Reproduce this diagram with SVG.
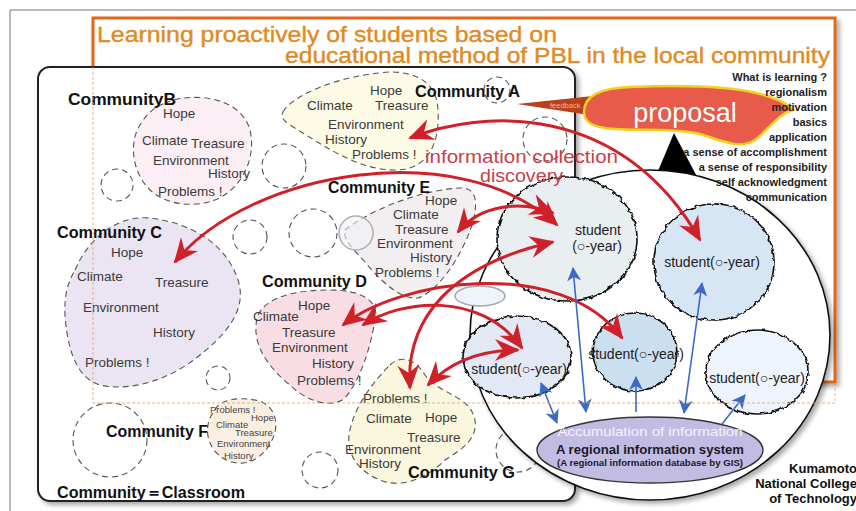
<svg xmlns="http://www.w3.org/2000/svg" width="856" height="511" viewBox="0 0 856 511">
<defs>
<style>
text{font-family:"Liberation Sans",Arial,sans-serif}
.w{font-size:13.5px;fill:#3a3a3a}
.wf{font-size:9.5px;fill:#444}
.lab{font-size:16px;font-weight:bold;fill:#111}
.cb{stroke:#555;stroke-width:1.1;stroke-dasharray:6 4}
.ec{fill:none;stroke:#555;stroke-width:1.1;stroke-dasharray:6 4}
.st{stroke:#111;stroke-width:1.6}
.stt{font-size:14px;fill:#222;text-anchor:middle}
.lst{font-size:11px;font-weight:bold;fill:#222;text-anchor:end}
.red{fill:none;stroke:#d0202a;stroke-width:3;marker-start:url(#rh);marker-end:url(#rh)}
.blue{fill:none;stroke:#3d68c4;stroke-width:1.6}
.ghost{fill:none;stroke:#e2a677;stroke-width:0.9;stroke-dasharray:3 2}
.ttl{font-size:22px;fill:#e08a22;stroke:#e08a22;stroke-width:0.35}
</style>
<marker id="rh" viewBox="-25 -12 28 24" refX="0" refY="0" markerWidth="28" markerHeight="24" markerUnits="userSpaceOnUse" orient="auto-start-reverse"><path d="M2,0 L-23,-11 L-15,0 L-23,11 Z" fill="#d0202a"/></marker>
<marker id="bh" viewBox="-15 -8 17 16" refX="0" refY="0" markerWidth="17" markerHeight="16" markerUnits="userSpaceOnUse" orient="auto-start-reverse"><path d="M1,0 L-13,-7 L-9,0 L-13,7 Z" fill="#3d68c4"/></marker>
<filter id="rough" x="-10%" y="-10%" width="120%" height="120%"><feTurbulence type="fractalNoise" baseFrequency="0.18" numOctaves="2" seed="7" result="n"/><feDisplacementMap in="SourceGraphic" in2="n" scale="4.5" xChannelSelector="R" yChannelSelector="G"/></filter>
<filter id="sh" x="-5%" y="-5%" width="112%" height="112%"><feDropShadow dx="3" dy="3" stdDeviation="2.5" flood-color="#000" flood-opacity="0.35"/></filter>
</defs>
<rect width="856" height="511" fill="#fff"/>
<path d="M10,511 L10,10 L856,10" fill="none" stroke="#777" stroke-width="1"/>

<g id="title-box">
<rect x="93" y="18" width="742" height="364" fill="#fff" stroke="#e0671c" stroke-width="3" filter="url(#sh)"/>
<text class="ttl" x="97" y="42" textLength="460" lengthAdjust="spacingAndGlyphs">Learning proactively of students based on</text>
<text class="ttl" x="830" y="63" text-anchor="end" textLength="545" lengthAdjust="spacingAndGlyphs">educational method of PBL in the local community</text>
</g>

<g id="classroom">
<rect x="38" y="67" width="537" height="434" rx="12" fill="#fff" stroke="#222" stroke-width="2" filter="url(#sh)"/>
<text class="lab" x="57" y="498" textLength="188" lengthAdjust="spacingAndGlyphs">Community＝Classroom</text>
</g>

<g id="empty-circles">
<circle class="ec" cx="497" cy="90" r="13"/>
<circle class="ec" cx="545" cy="139" r="22"/>
<circle class="ec" cx="117" cy="185" r="16"/>
<circle class="ec" cx="284" cy="166" r="22"/>
<circle class="ec" cx="250" cy="237" r="17"/>
<circle class="ec" cx="313" cy="233" r="24"/>
<circle class="ec" cx="218" cy="378" r="12"/>
<circle class="ec" cx="110" cy="440" r="37"/>
<circle class="ec" cx="320" cy="470" r="18"/>
<circle class="ec" cx="518" cy="450" r="22"/>
</g>

<g id="community-a">
<path class="cb" fill="#fdfbe6" d="M283,112 C292,95 340,75 390,72 C420,72 437,85 438,110 C440,140 430,170 395,170 C360,170 330,150 290,125 C282,120 281,116 283,112 Z"/>
<text class="w" x="370" y="95">Hope</text>
<text class="w" x="307" y="110">Climate</text>
<text class="w" x="375" y="110">Treasure</text>
<text class="w" x="328" y="129">Environment</text>
<text class="w" x="325" y="144">History</text>
<text class="w" x="352" y="159">Problems !</text>
<text class="lab" x="415" y="97" textLength="105" lengthAdjust="spacingAndGlyphs">Community A</text>
</g>

<g id="community-b">
<path class="cb" fill="#fbeef4" d="M165,103 C190,92 240,95 250,130 C257,160 240,190 215,200 C195,208 165,205 150,190 C130,170 130,140 140,125 C148,112 155,107 165,103 Z"/>
<text class="w" x="163" y="118">Hope</text>
<text class="w" x="142" y="145">Climate</text>
<text class="w" x="191" y="148">Treasure</text>
<text class="w" x="153" y="165">Environment</text>
<text class="w" x="208" y="178">History</text>
<text class="w" x="158" y="196">Problems !</text>
<text class="lab" x="68" y="105" textLength="108" lengthAdjust="spacingAndGlyphs">CommunityB</text>
</g>

<g id="community-c">
<path class="cb" fill="#ebe5f3" d="M75,270 C90,235 120,215 150,218 C185,222 225,240 238,280 C248,310 225,335 200,355 C170,380 130,392 100,385 C75,378 67,345 65,315 C64,295 68,282 75,270 Z"/>
<text class="w" x="111" y="257">Hope</text>
<text class="w" x="77" y="281">Climate</text>
<text class="w" x="155" y="287">Treasure</text>
<text class="w" x="83" y="312">Environment</text>
<text class="w" x="153" y="337">History</text>
<text class="w" x="85" y="367">Problems !</text>
<text class="lab" x="57" y="238" textLength="105" lengthAdjust="spacingAndGlyphs">Community C</text>
</g>

<g id="community-d">
<path class="cb" fill="#f9dde5" d="M258,315 C268,295 300,290 330,290 C360,290 380,300 375,320 C370,350 360,380 345,398 C330,410 305,400 290,385 C265,365 250,340 258,315 Z"/>
<text class="w" x="298" y="310">Hope</text>
<text class="w" x="253" y="321">Climate</text>
<text class="w" x="282" y="337">Treasure</text>
<text class="w" x="272" y="352">Environment</text>
<text class="w" x="312" y="368">History</text>
<text class="w" x="297" y="385">Problems !</text>
<text class="lab" x="262" y="287" textLength="105" lengthAdjust="spacingAndGlyphs">Community D</text>
</g>

<g id="community-e">
<path class="cb" fill="#f3eef0" d="M345,230 C370,210 420,190 460,188 C478,187 478,205 472,225 C462,255 440,290 418,298 C400,300 380,280 365,262 C352,248 342,238 345,230 Z"/>
<circle cx="356" cy="233" r="17" fill="#eef2f8" fill-opacity="0.6" stroke="#b0b0b0" stroke-width="1.5"/>
<text class="w" x="425" y="205">Hope</text>
<text class="w" x="393" y="219">Climate</text>
<text class="w" x="395" y="234">Treasure</text>
<text class="w" x="377" y="248">Environment</text>
<text class="w" x="410" y="262">History</text>
<text class="w" x="375" y="277">Problems !</text>
<text class="lab" x="328" y="193" textLength="102" lengthAdjust="spacingAndGlyphs">Community E</text>
</g>

<g id="community-f">
<path class="cb" fill="#fbefe2" d="M215,410 C220,398 245,396 262,402 C275,408 280,425 272,440 C265,455 250,467 232,462 C215,458 205,440 208,425 C209,418 212,414 215,410 Z"/>
<text class="wf" x="210" y="413">Problems !</text>
<text class="wf" x="251" y="421">Hope</text>
<text class="wf" x="216" y="428">Climate</text>
<text class="wf" x="235" y="436">Treasure</text>
<text class="wf" x="217" y="447">Environment</text>
<text class="wf" x="224" y="459">History</text>
<text class="lab" x="106" y="437" textLength="102" lengthAdjust="spacingAndGlyphs">Community F</text>
</g>

<g id="community-g">
<path class="cb" fill="#fbf6de" d="M390,365 C400,355 415,358 425,375 C440,395 470,395 475,420 C478,440 460,450 445,460 C430,475 405,490 380,480 C355,470 345,450 350,430 C355,405 375,380 390,365 Z"/>
<text class="w" x="363" y="403">Problems !</text>
<text class="w" x="366" y="423">Climate</text>
<text class="w" x="425" y="422">Hope</text>
<text class="w" x="407" y="442">Treasure</text>
<text class="w" x="345" y="454">Environment</text>
<text class="w" x="359" y="468">History</text>
<text class="lab" x="408" y="478" textLength="107" lengthAdjust="spacingAndGlyphs">Community G</text>
</g>

<g id="college">
<polygon points="674,133 650,190 704,190" fill="#000"/>
<ellipse cx="650" cy="335" rx="180" ry="165" fill="#fff" stroke="#111" stroke-width="1.6" filter="url(#sh)"/>
<ellipse cx="480" cy="296" rx="25" ry="10" fill="#eef4fa" stroke="#a8a8a8" stroke-width="1.5"/>
</g>

<g id="accumulation">
<ellipse cx="650" cy="450" rx="113" ry="33" fill="#c3bce2" stroke="#333" stroke-width="1.4"/>
<text x="650" y="436" font-size="13" fill="#f4f2ff" text-anchor="middle" textLength="185" lengthAdjust="spacingAndGlyphs">Accumulation of information</text>
<text x="650" y="454" font-size="13" font-weight="bold" fill="#1a1a2a" text-anchor="middle" textLength="188" lengthAdjust="spacingAndGlyphs">A regional information system</text>
<text x="650" y="466" font-size="8.5" font-weight="bold" fill="#1a1a2a" text-anchor="middle" textLength="186" lengthAdjust="spacingAndGlyphs">(A regional information database by GIS)</text>
</g>

<g id="student-1">
<ellipse class="st" cx="567" cy="239" rx="70" ry="62" fill="#e9eef0" filter="url(#rough)"/>
<text class="stt" x="598" y="235">student</text>
<text class="stt" x="597" y="251">(○-year)</text>
</g>
<g id="student-2">
<ellipse class="st" cx="714" cy="262" rx="60" ry="58" fill="#d6e6f4" filter="url(#rough)"/>
<text class="stt" x="712" y="267">student(○-year)</text>
</g>
<g id="student-3">
<ellipse class="st" cx="517" cy="357" rx="54" ry="41" fill="#e3e8f5" filter="url(#rough)"/>
<text class="stt" x="519" y="374">student(○-year)</text>
</g>
<g id="student-4">
<ellipse class="st" cx="635" cy="352" rx="42" ry="39" fill="#cadff0" filter="url(#rough)"/>
<text class="stt" x="636" y="359">student(○-year)</text>
</g>
<g id="student-5">
<ellipse class="st" cx="757" cy="372" rx="51" ry="42" fill="#edf4fb" filter="url(#rough)"/>
<text class="stt" x="757" y="383">student(○-year)</text>
</g>

<g id="connectors">
<path class="red" d="M410,138 C480,110 620,100 700,240"/>
<path class="red" d="M175,262 C250,170 460,135 557,225"/>
<path class="red" d="M458,232 C480,205 520,200 553,213"/>
<path class="red" d="M410,388 C405,320 450,265 553,242"/>
<path class="red" d="M343,325 C400,280 560,255 622,338"/>
<path class="red" d="M363,325 C400,300 480,290 522,348"/>
<path class="red" d="M428,385 C450,362 480,350 518,350"/>
<path class="blue" d="M573,268 L586,412" marker-start="url(#bh)" marker-end="url(#bh)"/>
<path class="blue" d="M541,383 L557,423" marker-start="url(#bh)" marker-end="url(#bh)"/>
<path class="blue" d="M636,412 L636,377" marker-end="url(#bh)"/>
<path class="blue" d="M702,283 L684,413" marker-start="url(#bh)" marker-end="url(#bh)"/>
<path class="blue" d="M722,424 L745,395" marker-end="url(#bh)"/>
</g>

<g id="proposal">
<polygon points="517,104 593,96 589,115" fill="#b8401c"/>
<text x="550" y="108" font-size="7.5" fill="#f2b2a2">feedback</text>
<path d="M584,112 C584,96 600,88 630,87 C680,85 740,86 770,97 C782,101 790,106 793,110 C778,114 768,130 755,140 C740,150 720,140 700,134 C670,127 630,132 605,128 C590,126 584,120 584,112 Z" fill="#e85a4a" stroke="#f2d21c" stroke-width="2.5"/>
<text x="685" y="122" font-size="27" fill="#fff" text-anchor="middle">proposal</text>
</g>

<g id="learning-list">
<text class="lst" x="827" y="81">What is learning ?</text>
<text class="lst" x="827" y="96">regionalism</text>
<text class="lst" x="827" y="111">motivation</text>
<text class="lst" x="827" y="126">basics</text>
<text class="lst" x="827" y="141">application</text>
<text class="lst" x="827" y="156">a sense of accomplishment</text>
<text class="lst" x="827" y="171">a sense of responsibility</text>
<text class="lst" x="827" y="186">self acknowledgment</text>
<text class="lst" x="827" y="201">communication</text>
</g>

<g id="info-label">
<text x="425" y="163" font-size="18" fill="#c8404a" textLength="193" lengthAdjust="spacingAndGlyphs">information collection</text>
<text x="480" y="182" font-size="18" fill="#c8404a" textLength="83" lengthAdjust="spacingAndGlyphs">discovery</text>
</g>

<g id="kumamoto">
<text x="857" y="473" font-size="13" font-weight="bold" fill="#111" text-anchor="end">Kumamoto</text>
<text x="857" y="488" font-size="13" font-weight="bold" fill="#111" text-anchor="end">National College</text>
<text x="857" y="503" font-size="13" font-weight="bold" fill="#111" text-anchor="end">of Technology</text>
</g>

<path class="ghost" d="M93,67 L93,403 L835,403 L835,382"/>
</svg>
